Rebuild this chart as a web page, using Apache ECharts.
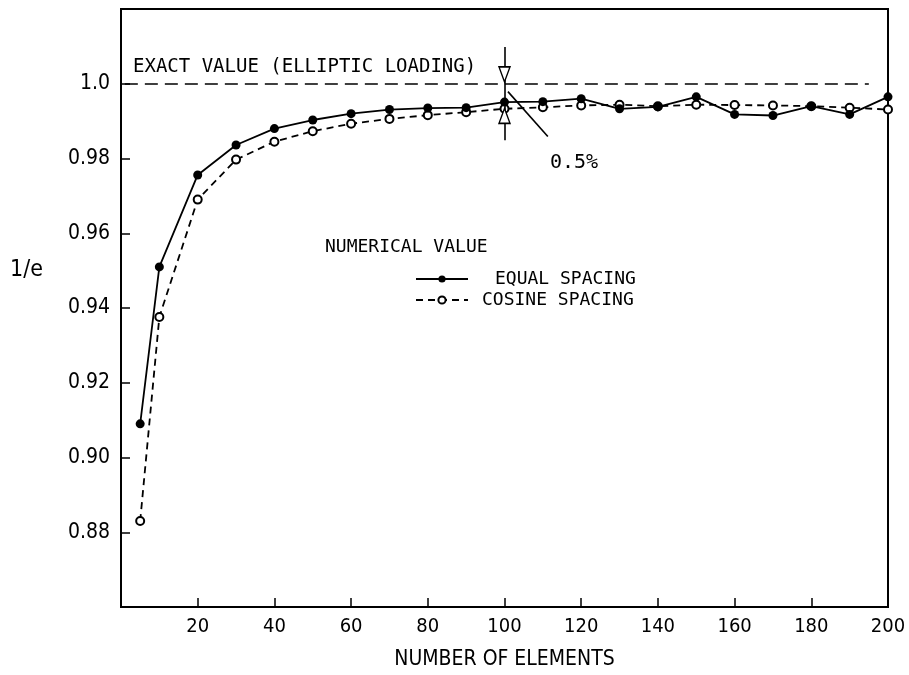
<!DOCTYPE html>
<html>
<head>
<meta charset="utf-8">
<script src="https://cdn.jsdelivr.net/npm/echarts@6/dist/echarts.min.js"></script>
<style>html,body{margin:0;padding:0;background:#fff}#c{width:909px;height:675px}</style>
</head>
<body>
<div id="c"></div>
<script>
// ---- data ----
var elements = [5, 10, 20, 30, 40, 50, 60, 70, 80, 90, 100, 110, 120, 130, 140, 150, 160, 170, 180, 190, 200];
var equalSpacing = [0.909, 0.951, 0.9756, 0.9836, 0.9880, 0.9903, 0.9920, 0.9931, 0.9935, 0.9936, 0.9951, 0.9952, 0.9960, 0.9933, 0.9938, 0.9965, 0.9918, 0.9915, 0.9940, 0.9918, 0.9965];
var cosineSpacing = [0.883, 0.9376, 0.9690, 0.9797, 0.9845, 0.9873, 0.9893, 0.9906, 0.9916, 0.9924, 0.9933, 0.9937, 0.9942, 0.9944, 0.9940, 0.9944, 0.9943, 0.9942, 0.9940, 0.9936, 0.9931];
var exactValue = 1.0;
var seriesNames = ['EQUAL SPACING', 'COSINE SPACING'];
var xTitle = 'NUMBER OF ELEMENTS';
var yTitle = '1/e';
var exactLabel = 'EXACT VALUE (ELLIPTIC LOADING)';
var legendTitle = 'NUMERICAL VALUE';
var errLabel = '0.5%';

function pairs(xs, ys) { return xs.map(function (x, i) { return [x, ys[i]]; }); }

var mono = '"DejaVu Sans Mono", monospace';
var cond = '"DejaVu Sans Condensed", "Liberation Sans Narrow", "DejaVu Sans", sans-serif';
var ink = '#000';

var chart = echarts.init(document.getElementById('c'));
chart.setOption({
  backgroundColor: '#fff',
  animation: false,
  grid: { left: 121, right: 21, top: 9, bottom: 66, show: true, borderColor: ink, borderWidth: 2, backgroundColor: 'transparent' },
  xAxis: {
    type: 'value', min: 0, max: 200, interval: 20,
    name: xTitle, nameLocation: 'middle', nameGap: 42,
    nameTextStyle: { fontFamily: cond, fontSize: 21, color: ink },
    axisLine: { lineStyle: { color: ink, width: 2 } },
    axisTick: { inside: true, length: 9, lineStyle: { color: ink, width: 1.5 } },
    axisLabel: { fontFamily: cond, fontSize: 20, color: ink, margin: 10,
      formatter: function (v) { return v === 0 ? '' : String(v); } },
    splitLine: { show: false }
  },
  yAxis: {
    type: 'value', min: 0.86, max: 1.02, interval: 0.02,
    axisLine: { lineStyle: { color: ink, width: 2 } },
    axisTick: { inside: true, length: 9, lineStyle: { color: ink, width: 1.5 } },
    axisLabel: { fontFamily: cond, fontSize: 21, color: ink, margin: 11,
      formatter: function (v) {
        var r = Math.round(v * 100) / 100;
        if (r < 0.87 || r > 1.01) return '';
        return r === 1 ? '1.0' : r.toFixed(2);
      } },
    splitLine: { show: false }
  },
  legend: [
    { data: [seriesNames[0]], left: 415, top: 270, padding: 0, itemWidth: 52, itemHeight: 9,
      textStyle: { fontFamily: mono, fontSize: 18, color: ink, padding: [0, 0, 0, 22] } },
    { data: [seriesNames[1]], left: 415, top: 291, padding: 0, itemWidth: 52, itemHeight: 9,
      textStyle: { fontFamily: mono, fontSize: 18, color: ink, padding: [0, 0, 0, 9] } }
  ],
  series: [
    {
      name: seriesNames[1], type: 'line', data: pairs(elements, cosineSpacing), z: 3,
      symbol: 'emptyCircle', symbolSize: 8,
      lineStyle: { color: ink, width: 1.8, type: [7, 5] },
      itemStyle: { color: ink, borderColor: ink, borderWidth: 1.6 },
      markLine: {
        silent: true, symbol: ['none', 'none'], label: { show: false },
        lineStyle: { color: ink, width: 1.6, type: [13, 7] },
        data: [
          [{ coord: [1, exactValue] }, { coord: [195, exactValue] }]
        ]
      }
    },
    {
      name: seriesNames[0], type: 'line', data: pairs(elements, equalSpacing), z: 4,
      symbol: 'circle', symbolSize: 9,
      lineStyle: { color: ink, width: 1.8 },
      itemStyle: { color: ink },
      markLine: {
        silent: true, symbol: ['none', 'none'], label: { show: false },
        lineStyle: { color: ink, width: 1.6, type: 'solid' },
        data: [
          [{ coord: [100, 1.0098] }, { coord: [100, 0.9849] }],
          [{ coord: [100.9, 0.9979] }, { coord: [111.3, 0.9859] }]
        ]
      },
      markPoint: {
        silent: true, label: { show: false },
        itemStyle: { color: '#fff', borderColor: ink, borderWidth: 1.5 },
        data: [
          { coord: [100, 1.0025], symbol: 'triangle', symbolSize: [11, 15], symbolRotate: 180 },
          { coord: [100, 0.9914], symbol: 'triangle', symbolSize: [11, 15] }
        ]
      }
    }
  ],
  graphic: [
    { type: 'text', left: 133, top: 58, style: { text: exactLabel, font: '19px ' + mono, fill: ink } },
    { type: 'text', left: 325, top: 238, style: { text: legendTitle, font: '18px ' + mono, fill: ink } },
    { type: 'text', left: 550, top: 153, style: { text: errLabel, font: '20px ' + mono, fill: ink } },
    { type: 'text', left: 10, top: 259, style: { text: yTitle, font: '23px ' + cond, fill: ink } }
  ]
});
</script>
</body>
</html>
